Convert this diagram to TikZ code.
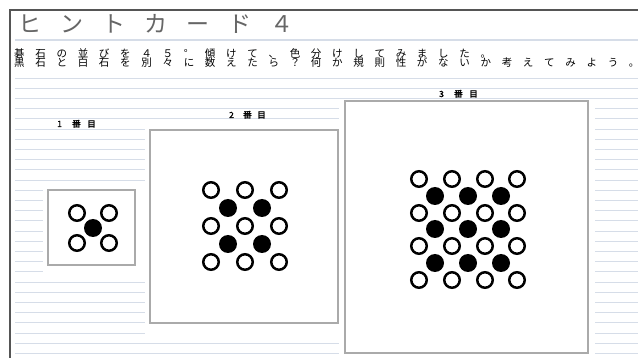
\documentclass[tikz,border=0pt]{standalone}
\usepackage{fontspec}
\newfontfamily\jp{Noto Sans CJK JP}
\newfontfamily\jpb[FakeBold=2]{Noto Sans CJK JP}
\definecolor{ruleblue}{RGB}{214,221,232}
\definecolor{framegray}{RGB}{85,85,85}
\definecolor{boxgray}{RGB}{170,170,170}
\def\kspread#1#2{\def\kcellw{#1}\kspreadloop#2\relax}
\def\kspreadloop#1{\ifx\relax#1\else\makebox[\kcellw][l]{#1}\expandafter\kspreadloop\fi}
\tikzset{
  ruleline/.style={draw=ruleblue, line width=0.8},
  cardbox/.style={draw=boxgray, line width=1.2, fill=white, inner sep=0},
  wstone/.style={circle, draw=black, line width=2.5, fill=white, minimum size=15.5, inner sep=0},
  bstone/.style={circle, fill=black, minimum size=18, inner sep=0},
  lbl/.style={anchor=base west, inner sep=0, font=\jpb\fontsize{8.5}{8.5}\selectfont},
  txt/.style={anchor=base west, inner sep=0, font=\jp\fontsize{10.5}{10.5}\selectfont},
}
\begin{document}
\begin{tikzpicture}[x=1pt,y=-1pt]
\useasboundingbox (0,0) rectangle (638,358);
\fill[white] (0,0) rectangle (638,358);
% ruled lines
\draw[ruleline, line width=1.2] (15,40) -- (638,40);
\foreach \k in {0,...,27} \draw[ruleline] (15,{78+10.2*\k}) -- (638,{78+10.2*\k});
% white margins around cards
\fill[white] (43,184) rectangle (145,275);
\fill[white] (145,124) rectangle (344,337);
\fill[white] (339,100) rectangle (595,358);
% frame
\draw[framegray, line width=2] (10,358) -- (10,10) -- (638,10);
% title and text
\node[anchor=base west, inner sep=0, text=black!60, font=\jp\fontsize{23}{23}\selectfont] (title) at (18,33) {\kspread{42pt}{ヒントカード４}};
\node[txt] (line1) at (14,58) {\kspread{21.2pt}{碁石の並びを４５°傾けて、色分けしてみました。}};
\node[txt] (line2) at (14,67) {\kspread{21.2pt}{黒石と白石を別々に数えたら？何か規則性がないか考えてみよう。}};
% labels
\node[lbl] (lab1) at (57,127) {\kspread{15pt}{1番目}};
\node[lbl] (lab2) at (229,118) {\kspread{14pt}{2番目}};
\node[lbl] (lab3) at (439,97) {\kspread{15pt}{3番目}};
% cards
\node[cardbox, minimum width=87, minimum height=75] (box1) at (91.5,227.5) {};
\node[cardbox, minimum width=188, minimum height=193] (box2) at (244,226.5) {};
\node[cardbox, minimum width=243, minimum height=252] (box3) at (466.5,227) {};
% card 1 stones
\foreach \i/\x in {1/77,2/109} \foreach \j/\y in {1/213,2/243} \node[wstone] (a-w\i\j) at (\x,\y) {};
\node[bstone] (a-b11) at (93,228) {};
% card 2 stones
\foreach \i/\x in {1/211,2/245,3/279} \foreach \j/\y in {1/190,2/226,3/262} \node[wstone] (b-w\i\j) at (\x,\y) {};
\foreach \i/\x in {1/228,2/262} \foreach \j/\y in {1/208,2/244} \node[bstone] (b-b\i\j) at (\x,\y) {};
% card 3 stones
\foreach \i/\x in {1/419,2/452,3/485,4/517} \foreach \j/\y in {1/179,2/213,3/246,4/280} \node[wstone] (c-w\i\j) at (\x,\y) {};
\foreach \i/\x in {1/435,2/468,3/501} \foreach \j/\y in {1/196,2/229,3/263} \node[bstone] (c-b\i\j) at (\x,\y) {};
\end{tikzpicture}
\end{document}
